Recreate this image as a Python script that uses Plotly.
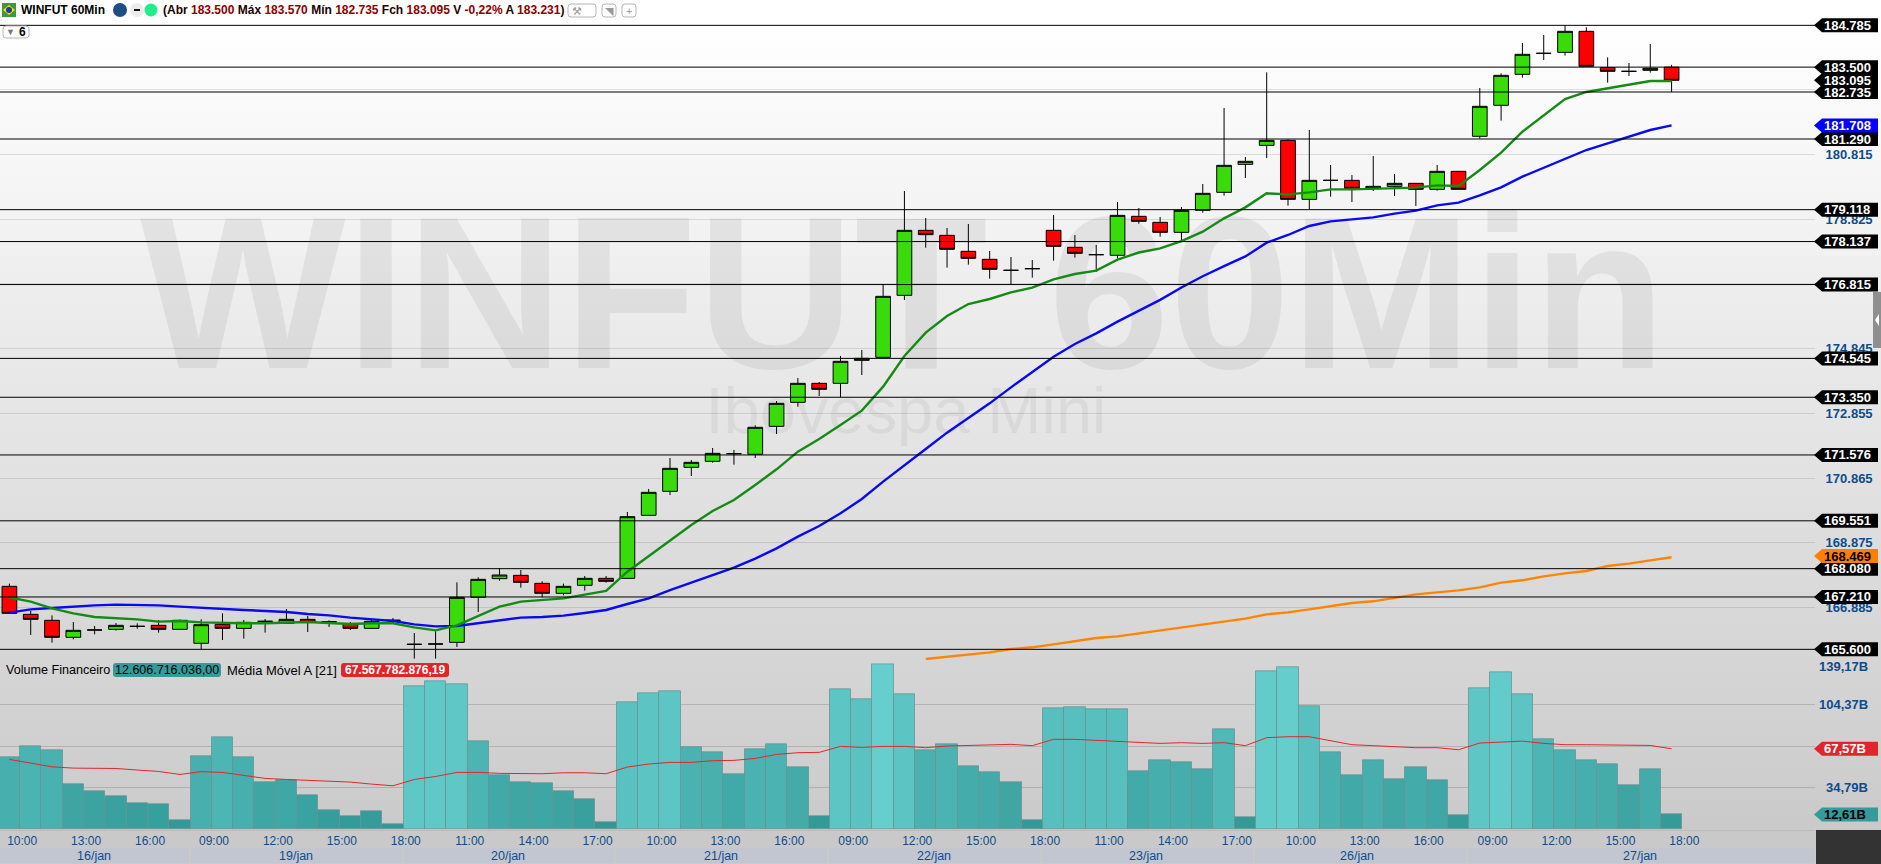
import plotly.graph_objects as go

W, H = 1881, 864
PLOT_R = 1815

opens = [167537,166676,166492,165969,166194,166215,166307,166338,166215,165785,166368,166245,166461,166399,166522,166450,166368,166245,166492,165754,
         165764,165815,167199,167773,167875,167629,167322,167568,167783,167783,169720,170458,171196,171380,171616,171596,172456,173194,173778,173778,
         174485,174578,176484,178482,178328,177837,177591,177253,177304,178482,177960,177734,177714,178913,178728,178421,179097,179651,180511,181095,
         181249,179435,180019,180019,179773,179835,179927,179743,180296,181373,182326,183279,183924,183955,184601,183484,183371,183402,183500]
highs = [167620,166789,166645,166440,166318,166410,166400,166502,166512,166522,166707,166502,166533,166840,166625,166491,166440,166502,166563,166102,
         166154,167660,167813,168090,168039,167690,167619,167855,167855,169823,170530,171483,171421,171790,171729,172487,173235,173942,173819,174619,
         174803,176822,179691,178861,178554,178677,177847,177662,177570,178954,178339,178031,179353,179169,178892,179200,179907,182243,180737,183340,
         181280,181567,180491,180183,180768,180214,179927,180491,180296,182859,183309,184242,184488,184785,184724,183801,183627,184211,183570]
lows = [166690,166041,165805,165907,166061,166174,166235,166113,166215,165610,165887,165928,166113,166399,166133,166287,166194,166235,166420,165313,
        165313,165672,166748,167711,167496,167199,167260,167404,167650,167783,169720,170345,170929,171339,171278,171483,172220,173061,173389,173358,
        174034,174578,176340,177949,177335,177427,176996,176832,177027,177550,177642,177201,177611,178687,178288,178154,179025,179548,180091,180706,
        179241,179138,179517,179353,179692,179538,179230,179702,179743,181301,181854,183176,183719,183853,183525,183022,183228,183330,182735]
closes = [166707,166522,165969,166184,166194,166338,166307,166215,166492,166358,166245,166430,166461,166522,166440,166450,166245,166461,166492,165754,
          165764,167199,167752,167885,167660,167322,167537,167783,167691,169679,170427,171165,171350,171626,171616,172426,173163,173778,173594,174455,
          174547,176453,178482,178349,177898,177621,177283,177253,177304,177990,177775,177734,178943,178759,178421,179097,179620,180481,180604,181249,
          179435,180019,180019,179773,179835,179927,179743,180296,179743,182295,183248,183894,183924,184601,183525,183371,183371,183463,183095]

ma_green = [167199,167066,166861,166707,166594,166553,166522,166451,166471,166430,166410,166400,166400,166430,166440,166410,166379,166400,166400,166276,
            166184,166338,166625,166912,167066,167117,167168,167281,167394,167988,168470,168962,169423,169853,170191,170653,171134,171678,172067,172497,
            172938,173676,174619,175336,175848,176217,176371,176576,176719,176976,177140,177242,177580,177800,177929,178154,178441,178851,179189,179620,
            179589,179651,179743,179743,179763,179763,179794,179866,179845,180338,180870,181516,182008,182520,182736,182848,182941,183074,183074]
ma_blue = [166727,166830,166871,166922,166953,166973,166973,166953,166912,166871,166840,166809,166779,166748,166686,166645,166574,166533,166471,166369,
           166307,166317,166400,166492,166574,166594,166635,166717,166809,166994,167168,167424,167660,167890,168111,168388,168706,169064,169392,169782,
           170222,170755,171270,171760,172262,172702,173163,173655,174137,174598,174988,175315,175674,176012,176345,176725,177070,177380,177680,178103,
           178339,178616,178759,178820,178882,178995,179087,179251,179333,179560,179805,180133,180409,180696,180952,181157,181362,181567,181708]
ma_orange = [None]*43 + [165303,165375,165446,165508,165610,165662,165754,165856,165949,165999,166092,166184,166277,166369,166461,166543,166676,166738,166830,166932,
             167025,167076,167190,167291,167353,167414,167506,167650,167722,167845,167937,168008,168162,168234,168336,168430]

volume = [60.4,69.6,66.2,37.7,32.1,28.0,22.1,21.2,7.5,61.5,77.1,60.7,39.7,41.4,28.8,16.2,11.2,15.4,4.5,120.2,
          124.1,121.9,74.1,45.6,39.7,38.9,32.1,25.4,5.9,106.5,114.0,115.7,69.0,64.6,46.1,67.4,71.3,52.3,10.9,117.4,
          109.0,138.6,113.2,66.5,71.3,53.1,47.8,39.4,7.5,101.5,102.3,100.6,100.6,48.9,58.1,56.2,50.3,83.9,10.1,132.2,
          135.6,102.9,64.3,45.8,57.6,41.9,51.7,40.8,11.5,117.9,131.4,112.9,75.7,66.5,58.1,54.8,37.2,50.6,12.61]
volume_ma = [58.7,55.9,52.5,51.4,51.1,51.1,49.8,48.6,46.1,48.4,47.8,45.0,42.8,41.9,41.1,40.2,39.7,38.0,36.6,41.9,
             44.4,47.8,47.8,47.0,46.7,46.7,47.5,47.5,46.7,52.3,54.8,56.2,56.2,57.6,57.9,59.5,62.9,64.3,64.6,69.6,
             68.8,69.6,69.6,68.5,69.9,70.4,71.0,71.3,70.2,75.5,75.5,74.6,73.8,72.7,72.1,72.7,72.1,72.7,70.2,76.9,
             77.7,77.7,74.6,71.0,70.2,69.3,68.5,68.5,66.8,72.4,73.2,74.0,72.1,71.0,71.0,70.7,70.4,70.4,67.57]

tick_hours = ["10:00","13:00","16:00","09:00","12:00","15:00","18:00","11:00","14:00","17:00"]*2 + ["10:00","13:00","16:00","09:00","12:00","15:00","18:00"]
day_labels = ["16/jan","19/jan","20/jan","21/jan","22/jan","23/jan","26/jan","27/jan"]
day_edges = [(0, 189), (191, 402), (404, 614), (616, 827), (829, 1040), (1042, 1253), (1255, 1466), (1468, 1815)]
day_centers = [94, 296, 508, 721, 934, 1146, 1357, 1640]

level_prices = [184785,183500,182735,181290,179118,178137,176815,174545,173350,171576,169551,168080,167210,165600]
last_price = 183095
grid_prices = [182805,180815,178825,176835,174845,172855,170865,168875,166885]
labelled_grid = [180815,178825,174845,172855,170865,168875,166885]
vol_grid = [34.79,69.58,104.37,139.17]
vol_axis_labels = ["34,79B","104,37B","139,17B"]

X_RANGE = [-0.441, 84.73]
P_RANGE = [165272, 185564]
V_RANGE = [0, 139.17]
TXT = "#0f4c8a"
FONT = "Liberation Sans"


def px(x):
    return x / W


def py(y):
    return 1 - y / H


def fmt(p):
    return f"{p:,}".replace(",", ".")


shapes = []
annotations = []


def rect(x0, y0, x1, y1, fill, line=None, layer="above", lw=1):
    shapes.append(dict(type="rect", xref="paper", yref="paper", x0=px(x0), x1=px(x1), y0=py(y0), y1=py(y1),
                       fillcolor=fill, line=dict(color=line or "rgba(0,0,0,0)", width=lw if line else 0), layer=layer))


def round_rect(x0, y0, x1, y1, fill, line=None, r=3, lw=1):
    a, b, c, d = px(x0), px(x1), py(y0), py(y1)
    rx, ry = r / W, r / H
    path = (f"M {a+rx} {c} L {b-rx} {c} Q {b} {c} {b} {c-ry} L {b} {d+ry} Q {b} {d} {b-rx} {d} "
            f"L {a+rx} {d} Q {a} {d} {a} {d+ry} L {a} {c-ry} Q {a} {c} {a+rx} {c} Z")
    shapes.append(dict(type="path", xref="paper", yref="paper", path=path, fillcolor=fill,
                       line=dict(color=line or "rgba(0,0,0,0)", width=lw if line else 0), layer="above"))


def circle(cx, cy, r, fill):
    shapes.append(dict(type="circle", xref="paper", yref="paper", x0=px(cx - r), x1=px(cx + r), y0=py(cy + r), y1=py(cy - r),
                       fillcolor=fill, line=dict(width=0), layer="above"))


def text(x, y, s, size=12, color="#000", xanchor="left", bold=False):
    annotations.append(dict(xref="paper", yref="paper", x=px(x), y=py(y), text=f"<b>{s}</b>" if bold else s, showarrow=False,
                            xanchor=xanchor, yanchor="middle", font=dict(family=FONT, size=size, color=color), borderpad=0, borderwidth=0))


def tag(value, yref, label, fill, color):
    path = "M 0 0 L 8 7 L 64 7 L 64 -7 L 8 -7 Z"
    shapes.append(dict(type="path", path=path, xref="paper", yref=yref, xsizemode="pixel", ysizemode="pixel",
                       xanchor=px(PLOT_R - 1), yanchor=value, fillcolor=fill, line=dict(width=0), layer="above"))
    annotations.append(dict(xref="paper", yref=yref, x=px(1824), y=value, text=f"<b>{label}</b>", showarrow=False, xanchor="left",
                            yanchor="middle", font=dict(family=FONT, size=13, color=color), borderpad=0, borderwidth=0))


# page background, a vertical fade built from strips
for top in range(0, 832, 16):
    level = max(202, min(255, round(255 - (top + 8 - 30) * 53 / 800)))
    rect(0, top, W, top + 16, f"rgb({level},{level},{level})", layer="below")
rect(0, 829.5, W, H, "#c9c9c9", layer="below")

# date strip
for (s, e), lab, c in zip(day_edges, day_labels, day_centers):
    rect(s, 848, e, 863, "#c2c6d1", layer="below")
    text(c, 856, lab, 12.5, TXT, xanchor="center")

# horizontal levels and their tags
for p in level_prices:
    shapes.append(dict(type="line", xref="paper", yref="y2", x0=0, x1=px(PLOT_R), y0=p, y1=p, line=dict(color="#000", width=1), layer="above"))

for v, lab, ys in zip([34.79, 104.37, 139.17], vol_axis_labels, [0, 0, -3]):
    annotations.append(dict(xref="paper", yref="y3", x=px(1870), y=v, text=f"<b>{lab}</b>", showarrow=False, xanchor="right", yanchor="middle", yshift=ys,
                            font=dict(family=FONT, size=13, color=TXT)))

for p in level_prices + [last_price]:
    tag(p, "y2", fmt(p), "#000", "#fff")
tag(181708, "y2", "181.708", "#0000ff", "#fff")
tag(168469, "y2", "168.469", "#ff8000", "#000")
tag(67.57, "y3", "67,57B", "#e0252b", "#fff")
tag(12.61, "y3", "12,61B", "#339b99", "#000")

# dark corner and side handle
rect(PLOT_R + 1, 830, W, H, "#333333")
rect(1873, 292, W, 348, "#8f8f8f")
shapes.append(dict(type="path", xref="paper", yref="paper", path=f"M {px(1879)} {py(314)} L {px(1875)} {py(320)} L {px(1879)} {py(326)} Z",
                   fillcolor="#ffffff", line=dict(width=0), layer="above"))

# header row
rect(2, 3, 16, 17, "#3c9a3c")
shapes.append(dict(type="path", xref="paper", yref="paper", path=f"M {px(9)} {py(5)} L {px(15)} {py(10)} L {px(9)} {py(15)} L {px(3)} {py(10)} Z",
                   fillcolor="#f3d530", line=dict(width=0), layer="above"))
circle(9, 10, 3, "#1f3f8f")
text(20.5, 10, "WINFUT 60Min", 12, "#000", bold=True)
circle(120, 10, 7, "#1d4f86")
circle(137, 10, 7, "#ececec")
rect(134, 9, 140, 11, "#111")
circle(151, 10, 6.5, "#22ee88")
R = "#8b0000"
head = (f"(Abr <span style='color:{R}'>183.500</span> Máx <span style='color:{R}'>183.570</span> Mín <span style='color:{R}'>182.735</span> "
        f"Fch <span style='color:{R}'>183.095</span> V <span style='color:{R}'>-0,22%</span> A <span style='color:{R}'>183.231</span>)")
text(163, 10, head, 12, "#200000", bold=True)
for a, b, lab in [(568, 596, "⚒"), (602, 616, "◥"), (622, 636, "+")]:
    round_rect(a, 4, b, 17, "rgba(255,255,255,0.6)", "#b5b5b5", r=3)
    text((a + b) / 2 - (5 if b - a > 20 else 0), 10.5, lab, 11, "#9a9a9a", xanchor="center")
round_rect(3, 26, 29, 38, "rgba(255,255,255,0.7)", "#b5b5b5", r=3)
text(6, 32, "▼", 9, "#777")
text(19, 32, "6", 12, "#000", bold=True)

# volume header
text(6, 670, "Volume Financeiro", 12.6, "#000")
round_rect(113, 663, 221, 677, "#339b99", r=3)
text(167, 670, "12.606.716.036,00", 12.5, "#000", xanchor="center")
text(226.5, 670, "Média Móvel A [21]", 13, "#000")
round_rect(341, 663, 449, 677, "#e0252b", r=3)
text(395, 670, "<b>67.567.782.876,19</b>", 12, "#fff", xanchor="center")

x_idx = list(range(len(closes)))
fig = go.Figure()

# watermark sits in the first (lowest) subplot so the chart draws over it
fig.add_trace(go.Scatter(x=[903], y=[313], mode="text", text=["WINFUT 60Min"], textposition="middle center", hoverinfo="skip", showlegend=False,
                         textfont=dict(family=FONT, size=218, color="rgba(0,0,0,0.062)", weight="bold"), xaxis="x", yaxis="y"))
fig.add_trace(go.Scatter(x=[906], y=[417], mode="text", text=["Ibovespa Mini"], textposition="middle center", hoverinfo="skip", showlegend=False,
                         textfont=dict(family=FONT, size=65, color="rgba(0,0,0,0.05)"), xaxis="x", yaxis="y"))

fig.add_trace(go.Candlestick(x=x_idx, open=opens, high=highs, low=lows, close=closes, xaxis="x2", yaxis="y2", whiskerwidth=0, showlegend=False,
                             increasing=dict(fillcolor="#39dc0a", line=dict(color="#000", width=1)),
                             decreasing=dict(fillcolor="#ff0000", line=dict(color="#000", width=1))))
fig.add_trace(go.Scatter(x=x_idx, y=ma_orange, mode="lines", line=dict(color="#ff8400", width=2.4), xaxis="x2", yaxis="y2", showlegend=False))
fig.add_trace(go.Scatter(x=x_idx, y=ma_blue, mode="lines", line=dict(color="#0a0aee", width=2.4), xaxis="x2", yaxis="y2", showlegend=False))
fig.add_trace(go.Scatter(x=x_idx, y=ma_green, mode="lines", line=dict(color="#168a16", width=2.4), xaxis="x2", yaxis="y2", showlegend=False))

fig.add_trace(go.Bar(x=x_idx, y=volume, width=1, xaxis="x3", yaxis="y3", showlegend=False,
                     marker=dict(color=volume, cmin=0, cmax=139.17, colorscale=[[0, "#2f9694"], [1, "#66cfcd"]], showscale=False,
                                 line=dict(color="rgba(105,145,145,0.75)", width=1))))
fig.add_trace(go.Scatter(x=x_idx, y=volume_ma, mode="lines", line=dict(color="#e3262c", width=1), xaxis="x3", yaxis="y3", showlegend=False))

dom_x = [0, PLOT_R / W]
fig.update_layout(
    width=W, height=H, margin=dict(l=0, r=0, t=0, b=0), autosize=False, showlegend=False,
    paper_bgcolor="rgba(0,0,0,0)", plot_bgcolor="rgba(0,0,0,0)", bargap=0, shapes=shapes, annotations=annotations,
    boxmode="group", boxgroupgap=0, boxgap=0.31,
    font=dict(family=FONT),
    xaxis=dict(domain=dom_x, range=[0, PLOT_R], visible=False, fixedrange=True),
    yaxis=dict(domain=[0, 1], range=[H, 0], visible=False, fixedrange=True),
    xaxis2=dict(domain=dom_x, range=X_RANGE, visible=False, rangeslider=dict(visible=False), anchor="y2", fixedrange=True),
    yaxis2=dict(domain=[py(660), 1], range=P_RANGE, anchor="x2", side="right", tickmode="array", tickvals=grid_prices,
                ticktext=[f"<b>{fmt(p)}</b>" if p in labelled_grid else "" for p in grid_prices],
                tickfont=dict(family=FONT, size=13, color=TXT), ticks="outside", ticklen=7, tickcolor="rgba(0,0,0,0)",
                showgrid=True, gridcolor="rgba(0,0,0,0.11)", gridwidth=1, zeroline=False, showline=False, fixedrange=True),
    xaxis3=dict(domain=dom_x, range=X_RANGE, anchor="y3", tickmode="array", tickvals=[i * 3 + 0.6 for i in range(len(tick_hours))], ticktext=tick_hours,
                tickfont=dict(family=FONT, size=12, color=TXT), ticks="", showgrid=False, zeroline=False,
                showline=True, linecolor="#bdbdbd", linewidth=1, fixedrange=True),
    yaxis3=dict(domain=[py(829.5), py(663.3)], range=V_RANGE, anchor="x3", tickmode="array", tickvals=vol_grid, showticklabels=False, ticks="",
                showgrid=True, gridcolor="rgba(0,0,0,0.14)", gridwidth=1, zeroline=False, showline=False, fixedrange=True),
)

fig.write_html("out.html", config=dict(displayModeBar=False), post_script="document.body.style.margin='0';document.body.style.overflow='hidden';")
